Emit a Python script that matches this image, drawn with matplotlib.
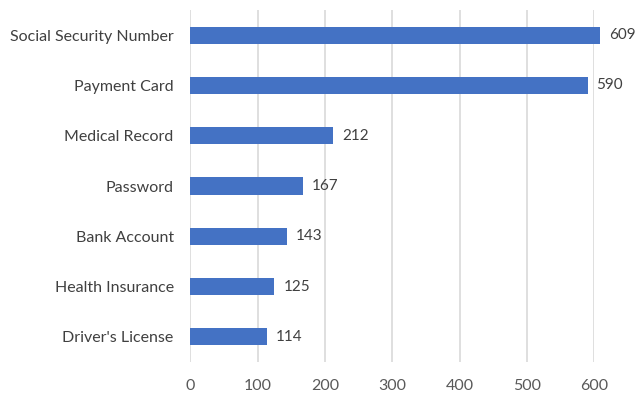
import matplotlib.pyplot as plt

categories = ["Social Security Number", "Payment Card", "Medical Record", "Password",
              "Bank Account", "Health Insurance", "Driver's License"]
values = [609, 590, 212, 167, 143, 125, 114]
xticks = [0, 100, 200, 300, 400, 500, 600]

plt.rcParams['font.family'] = ['Lato', 'DejaVu Sans']

fig = plt.figure(figsize=(6.37, 3.94), dpi=100)
ax = fig.add_axes([0.2988, 0.0812, 0.9330 - 0.2988, 0.9746 - 0.0812])

pos = list(range(len(categories)))
bars = ax.barh(pos, values, height=0.34, color="#4472C4", zorder=3, clip_on=False)
ax.set_ylim(len(categories) - 0.5, -0.5)
ax.set_xlim(0, 600)
ax.set_yticks(pos)
ax.set_yticklabels(categories, color="#404040", fontsize=11.5)
ax.set_xticks(xticks)
ax.set_xticklabels([str(t) for t in xticks], color="#595959", fontsize=11.5)
ax.tick_params(length=0)
ax.tick_params(axis='y', pad=12)
ax.tick_params(axis='x', pad=12)
ax.grid(axis='x', color="#D9D9D9", linewidth=1.2, zorder=0)
for s in ax.spines.values():
    s.set_visible(False)

for p, v in zip(pos, values):
    ax.annotate(str(v), (v, p), xytext=(9, 0), textcoords="offset pixels",
                va="center", ha="left", fontsize=11, color="#404040",
                annotation_clip=False)

fig.savefig("out.png", dpi=100)
